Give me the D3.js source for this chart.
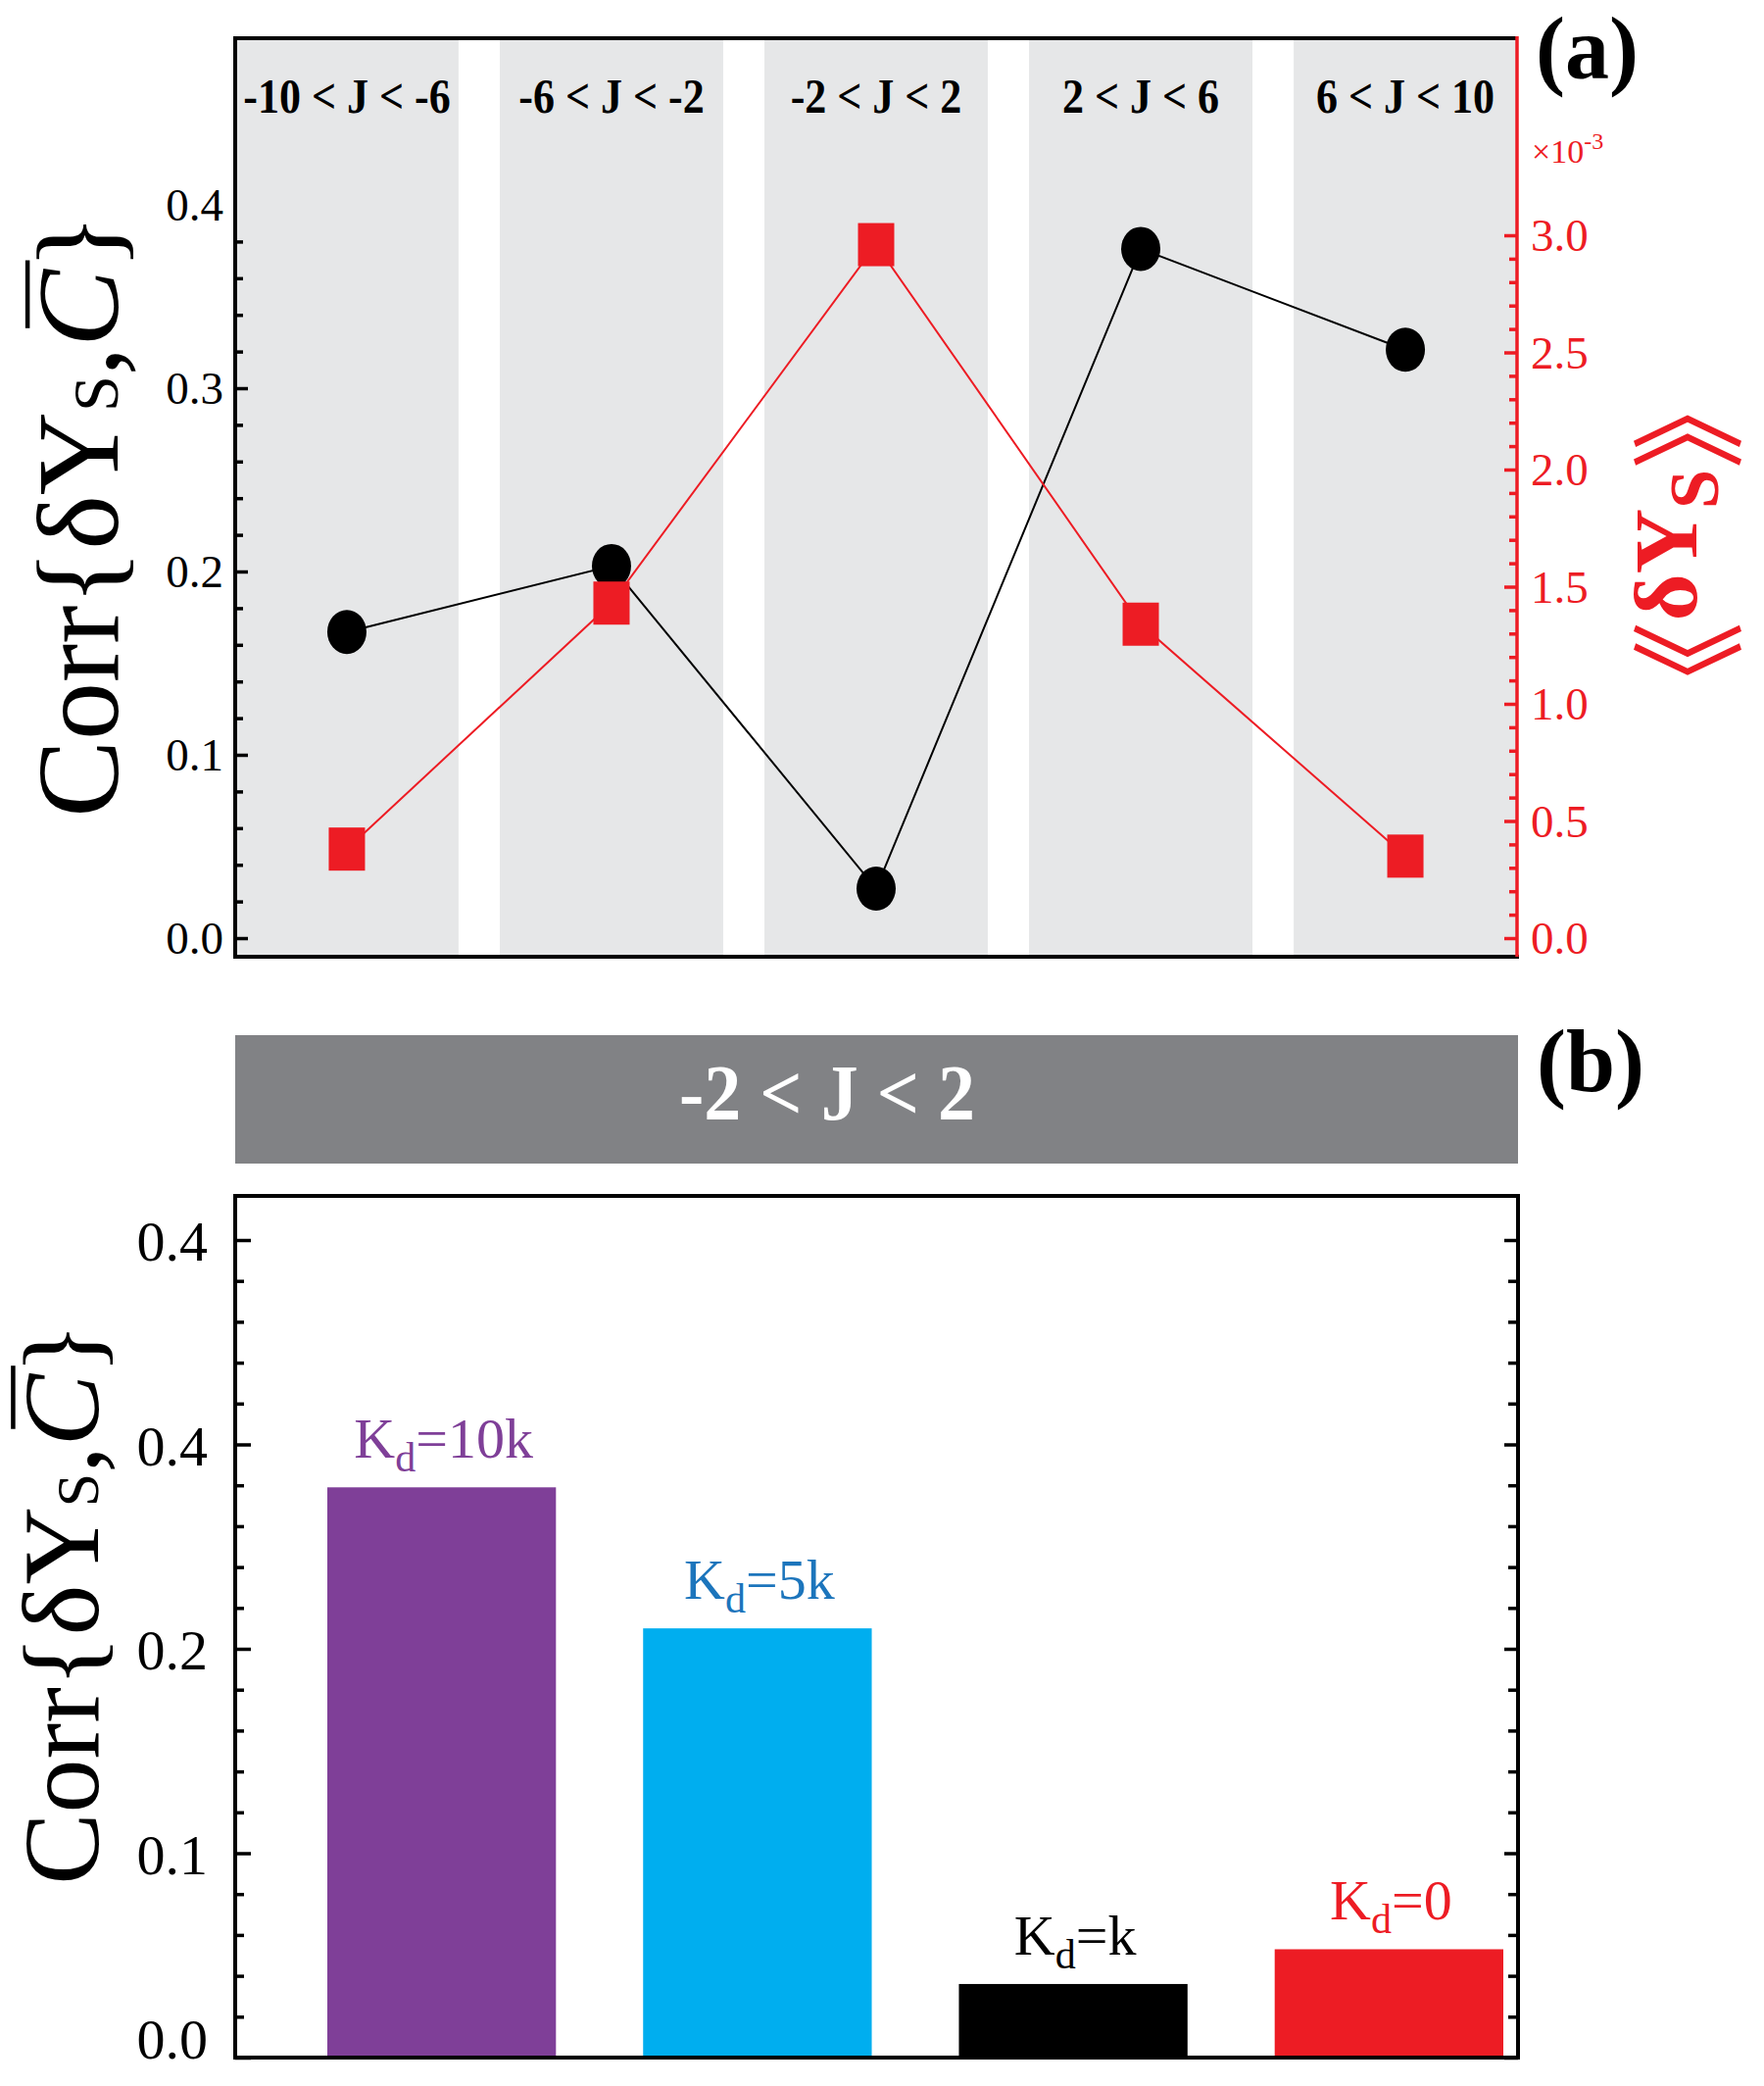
<!DOCTYPE html>
<html>
<head>
<meta charset="utf-8">
<script src="https://cdn.jsdelivr.net/npm/d3@7"></script>
<style>
  html, body { margin: 0; padding: 0; background: #fff; }
  svg { display: block; }
  text { font-family: "Liberation Serif", "Times New Roman", serif; }
</style>
</head>
<body>
<svg id="chart" width="1800" height="2128"></svg>
<script>
// ---------------- data ----------------
const categories = ["-10 < J < -6", "-6 < J < -2", "-2 < J < 2", "2 < J < 6", "6 < J < 10"];
const corrValues = [0.167, 0.203, 0.027, 0.376, 0.321];      // black circles, left axis
const meanDeltaY = [0.38, 1.43, 2.96, 1.34, 0.35];            // red squares, right axis (x10^-3)
const leftTicksA = [0.0, 0.1, 0.2, 0.3, 0.4];
const rightTicksA = [0.0, 0.5, 1.0, 1.5, 2.0, 2.5, 3.0];

const bannerLabel = "-2 < J < 2";
const barCategories = ["Kd=10k", "Kd=5k", "Kd=k", "Kd=0"];
const barLabelSuffix = ["=10k", "=5k", "=k", "=0"];
const barValues = [0.279, 0.210, 0.036, 0.053];
const barTicks = [0.0, 0.1, 0.2, 0.3, 0.4];
const barTickLabels = ["0.0", "0.1", "0.2", "0.4", "0.4"];
const barColors = ["#7F3F98", "#00AEEF", "#000000", "#ED1C24"];
const barLabelColors = ["#7F3F98", "#1C75BC", "#000000", "#ED1C24"];

// ---------------- layout ----------------
const svg = d3.select("#chart");
svg.append("rect").attr("width", 1800).attr("height", 2128).attr("fill", "#fff");

const A = { left: 240, right: 1548, top: 39, bottom: 976 };
const B = { left: 240, right: 1549, top: 1220, bottom: 2099 };
const RED = "#ED1C24";

// ================= PANEL (a) =================
const xA = d3.scaleBand().domain(categories).range([A.left, A.right]).paddingInner(0.156).paddingOuter(0);
const yL = d3.scaleLinear().domain([0, 0.4]).range([957, 209]);
const yR = d3.scaleLinear().domain([0, 3]).range([957, 240]);

const gA = svg.append("g");

// shaded bands
gA.selectAll("rect.band").data(categories).enter().append("rect")
  .attr("class", "band")
  .attr("x", d => xA(d)).attr("width", xA.bandwidth())
  .attr("y", A.top + 2).attr("height", A.bottom - A.top - 3)
  .attr("fill", "#E6E7E8");

// band headers
gA.selectAll("text.hdr").data(categories).enter().append("text")
  .attr("class", "hdr")
  .attr("transform", d => `translate(${xA(d) + xA.bandwidth() / 2},115) scale(0.88,1)`)
  .attr("text-anchor", "middle")
  .attr("font-size", 50).attr("font-weight", "bold").attr("fill", "#000")
  .text(d => d);

// left axis ticks (major, inward)
const leftAxis = d3.axisLeft(yL).tickValues(leftTicksA).tickSize(-13).tickPadding(12)
  .tickFormat(d3.format(".1f"));
const gLA = gA.append("g").attr("transform", `translate(${A.left},0)`).call(leftAxis);
gLA.select(".domain").remove();
gLA.selectAll(".tick line").attr("stroke", "#000").attr("stroke-width", 3.5)
  .filter(d => d > 0.39).remove();
gLA.selectAll(".tick text").attr("font-size", 47).attr("fill", "#000")
  .attr("font-family", "Liberation Serif").attr("dy", "0.34em");

// left minor ticks
const minorLeftA = d3.range(0, 20).filter(i => i % 5 !== 0).map(i => i * 0.02);
const gLAm = gA.append("g").attr("transform", `translate(${A.left},0)`)
  .call(d3.axisLeft(yL).tickValues(minorLeftA).tickSize(-8).tickFormat(""));
gLAm.select(".domain").remove();
gLAm.selectAll(".tick line").attr("stroke", "#000").attr("stroke-width", 3.5);

// right axis (red)
const rightAxis = d3.axisRight(yR).tickValues(rightTicksA).tickSize(-13).tickPadding(14)
  .tickFormat(d3.format(".1f"));
const gRA = gA.append("g").attr("transform", `translate(${A.right},0)`).call(rightAxis);
gRA.select(".domain").remove();
gRA.selectAll(".tick line").attr("stroke", RED).attr("stroke-width", 3.5);
gRA.selectAll(".tick text").attr("font-size", 47).attr("fill", RED)
  .attr("font-family", "Liberation Serif").attr("dy", "0.34em");
const minorRightA = d3.range(0, 31).filter(i => i % 5 !== 0).map(i => i * 0.1);
const gRAm = gA.append("g").attr("transform", `translate(${A.right},0)`)
  .call(d3.axisRight(yR).tickValues(minorRightA).tickSize(-8).tickFormat(""));
gRAm.select(".domain").remove();
gRAm.selectAll(".tick line").attr("stroke", RED).attr("stroke-width", 3.5);

// frame (a)
gA.append("line").attr("x1", A.left).attr("x2", A.right).attr("y1", A.top).attr("y2", A.top)
  .attr("stroke", "#000").attr("stroke-width", 4);
gA.append("line").attr("x1", A.left).attr("x2", A.right + 2).attr("y1", A.bottom).attr("y2", A.bottom)
  .attr("stroke", "#000").attr("stroke-width", 4);
gA.append("line").attr("x1", A.left).attr("x2", A.left).attr("y1", A.top - 2).attr("y2", A.bottom + 2)
  .attr("stroke", "#000").attr("stroke-width", 4);
gA.append("line").attr("x1", A.right).attr("x2", A.right).attr("y1", A.top - 2).attr("y2", A.bottom)
  .attr("stroke", RED).attr("stroke-width", 3.5);

// series lines and markers
const cx = (d, i) => xA(categories[i]) + xA.bandwidth() / 2;
const lineBlack = d3.line().x((d, i) => cx(d, i)).y(d => yL(d));
const lineRed = d3.line().x((d, i) => cx(d, i)).y(d => yR(d));

gA.append("path").datum(corrValues).attr("d", lineBlack)
  .attr("fill", "none").attr("stroke", "#000").attr("stroke-width", 2);
gA.selectAll("ellipse.pt").data(corrValues).enter().append("ellipse")
  .attr("class", "pt")
  .attr("cx", (d, i) => cx(d, i)).attr("cy", d => yL(d))
  .attr("rx", 20).attr("ry", 22.5).attr("fill", "#000");

gA.append("path").datum(meanDeltaY).attr("d", lineRed)
  .attr("fill", "none").attr("stroke", RED).attr("stroke-width", 2);
gA.selectAll("rect.sq").data(meanDeltaY).enter().append("rect")
  .attr("class", "sq")
  .attr("x", (d, i) => cx(d, i) - 18.5).attr("y", d => yR(d) - 22)
  .attr("width", 37).attr("height", 44).attr("fill", RED);

// x10^-3 label
const mult = gA.append("text").attr("x", 1563).attr("y", 166)
  .attr("font-size", 34).attr("fill", RED);
mult.append("tspan").text("×10");
mult.append("tspan").attr("font-size", 24).attr("dy", -14).text("-3");

// left axis title
function corrTitle(parent, x, y, fs) {
  const g = parent.append("g").attr("transform", `translate(${x},${y}) rotate(-90)`);
  const t = g.append("text")
    .attr("text-anchor", "middle").attr("font-size", fs).attr("fill", "#000");
  t.append("tspan").text("Corr{δY");
  t.append("tspan").attr("font-size", fs * 0.56).text("S");
  t.append("tspan").text(",");
  t.append("tspan").attr("font-style", "italic").text("C");
  t.append("tspan").text("}");
  // overline over the italic C (char index 9)
  const ext = t.node().getExtentOfChar(9);
  const yTop = -(0.66 * fs + 14);
  g.append("line")
    .attr("x1", ext.x + 0.16 * fs).attr("x2", ext.x + ext.width + 0.08 * fs)
    .attr("y1", yTop).attr("y2", yTop)
    .attr("stroke", "#000").attr("stroke-width", 4.5);
}
corrTitle(gA, 120, 526, 118);

// right axis title
const gRt = gA.append("g").attr("transform", `translate(1731,556) rotate(-90)`);
const rt = gRt.append("text")
  .attr("text-anchor", "middle").attr("font-size", 92).attr("font-weight", "bold").attr("fill", RED);
rt.append("tspan").attr("font-family", "Noto Sans CJK SC").attr("font-weight", "normal")
  .attr("font-size", 118).attr("dy", 36).text("《");
rt.append("tspan").attr("dy", -36).text("δY");
rt.append("tspan").attr("font-size", 72).attr("dy", 22).text("S");
rt.append("tspan").attr("font-family", "Noto Sans CJK SC").attr("font-weight", "normal")
  .attr("font-size", 118).attr("dy", 14).text("》");

// panel letter
gA.append("text").attr("x", 1567).attr("y", 80).attr("font-size", 90).attr("font-weight", "bold")
  .attr("fill", "#000").text("(a)");

// ================= PANEL (b) =================
const gB = svg.append("g");

// banner
gB.append("rect").attr("x", B.left).attr("y", 1056).attr("width", B.right - B.left).attr("height", 131)
  .attr("fill", "#818285");
gB.append("text").attr("transform", "translate(844,1142) scale(0.95,1)")
  .attr("text-anchor", "middle").attr("font-size", 80).attr("font-weight", "bold").attr("fill", "#fff")
  .text(bannerLabel);
gB.append("text").attr("x", 1568).attr("y", 1113).attr("font-size", 90).attr("font-weight", "bold")
  .attr("fill", "#000").text("(b)");

const xB = d3.scaleBand().domain(barCategories).range([334, 1534]).paddingInner(0.276).paddingOuter(0);
const yB = d3.scaleLinear().domain([0, 0.4]).range([B.bottom, 1265]);

// bars
gB.selectAll("rect.bar").data(barValues).enter().append("rect")
  .attr("class", "bar")
  .attr("x", (d, i) => xB(barCategories[i])).attr("width", xB.bandwidth())
  .attr("y", d => yB(d)).attr("height", d => yB(0) - yB(d))
  .attr("fill", (d, i) => barColors[i]);

// bar labels
barValues.forEach((v, i) => {
  const t = gB.append("text")
    .attr("x", xB(barCategories[i]) + xB.bandwidth() / 2 + 2)
    .attr("y", yB(v) - 30)
    .attr("text-anchor", "middle").attr("font-size", 58).attr("fill", barLabelColors[i]);
  t.append("tspan").text("K");
  t.append("tspan").attr("font-size", 42).attr("dy", 14).text("d");
  t.append("tspan").attr("dy", -14).text(barLabelSuffix[i]);
});

// left axis (b)
const leftAxisB = d3.axisLeft(yB).tickValues(barTicks).tickSize(-16).tickPadding(28)
  .tickFormat((d, i) => barTickLabels[i]);
const gLB = gB.append("g").attr("transform", `translate(${B.left},0)`).call(leftAxisB);
gLB.select(".domain").remove();
gLB.selectAll(".tick line").attr("stroke", "#000").attr("stroke-width", 3.5);
gLB.selectAll(".tick text").attr("font-size", 58).attr("fill", "#000")
  .attr("font-family", "Liberation Serif")
  .attr("dy", d => d === 0 ? "0.0em" : "0.36em");
const minorB = d3.range(0, 21).filter(i => i % 5 !== 0).map(i => i * 0.02);
const gLBm = gB.append("g").attr("transform", `translate(${B.left},0)`)
  .call(d3.axisLeft(yB).tickValues(minorB).tickSize(-9).tickFormat(""));
gLBm.select(".domain").remove();
gLBm.selectAll(".tick line").attr("stroke", "#000").attr("stroke-width", 3.5);

// right side ticks (b)
const gRB = gB.append("g").attr("transform", `translate(${B.right},0)`)
  .call(d3.axisRight(yB).tickValues(barTicks).tickSize(-14).tickFormat(""));
gRB.select(".domain").remove();
gRB.selectAll(".tick line").attr("stroke", "#000").attr("stroke-width", 3.5);
const gRBm = gB.append("g").attr("transform", `translate(${B.right},0)`)
  .call(d3.axisRight(yB).tickValues(minorB).tickSize(-10).tickFormat(""));
gRBm.select(".domain").remove();
gRBm.selectAll(".tick line").attr("stroke", "#000").attr("stroke-width", 3.5);

// frame (b)
gB.append("rect").attr("x", B.left).attr("y", B.top).attr("width", B.right - B.left)
  .attr("height", B.bottom - B.top).attr("fill", "none").attr("stroke", "#000").attr("stroke-width", 4);

corrTitle(gB, 100, 1636, 110);
</script>
</body>
</html>
